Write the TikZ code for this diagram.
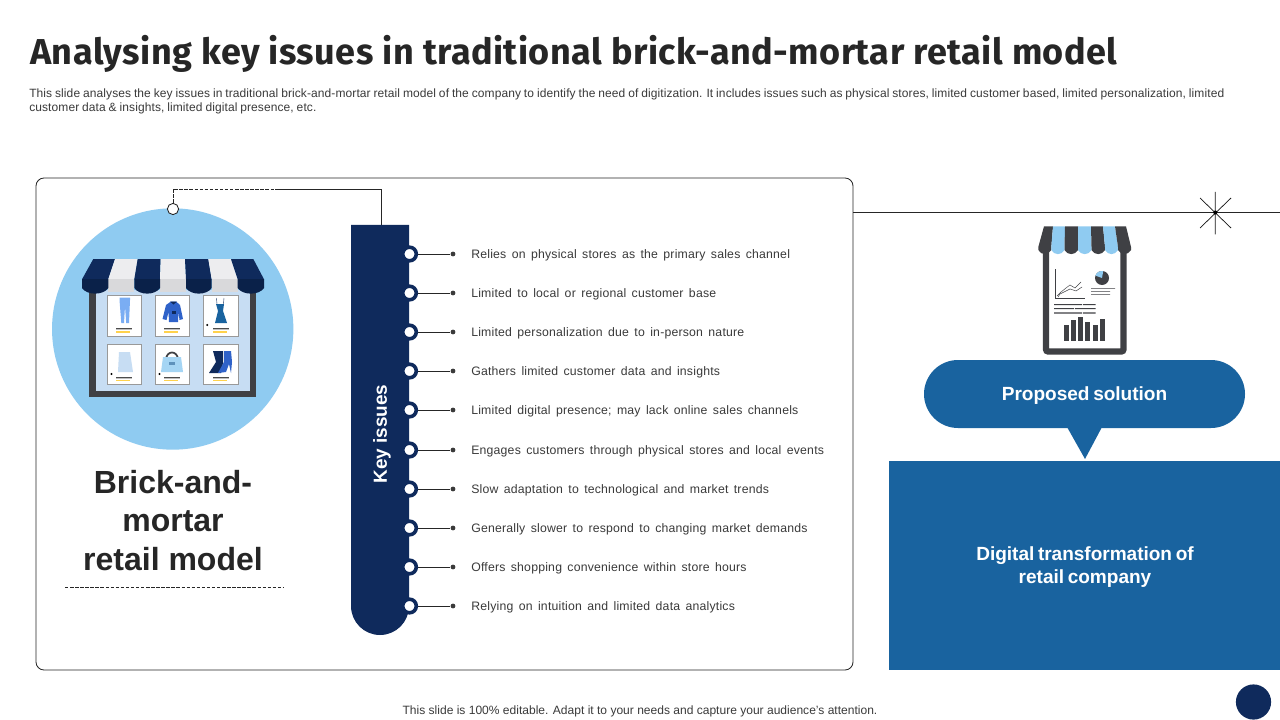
\documentclass[tikz,border=0pt]{standalone}
\usepackage{fontspec}
\setmainfont{Liberation Sans}
\newfontfamily\titlefont[LetterSpace=1.3]{Fira Sans}
\newfontfamily\itemfont[WordSpace=1.5,LetterSpace=1.65]{Liberation Sans}
\newfontfamily\headfont[WordSpace=0.7,LetterSpace=-0.2]{Liberation Sans}
\newfontfamily\subfont[WordSpace=0.85,LetterSpace=0.8]{Liberation Sans}
\definecolor{navy}{HTML}{0F2A5C}
\definecolor{midblue}{HTML}{19639F}
\definecolor{skyb}{HTML}{8FCBF1}
\definecolor{paleb}{HTML}{C7DDF3}
\definecolor{charc}{HTML}{3F4044}
\definecolor{txt}{HTML}{3A3A3A}
\definecolor{awnwhite}{HTML}{EDEDEF}
\definecolor{awngrey}{HTML}{D9D9DB}
\definecolor{navyd}{HTML}{0A2149}
\definecolor{royal}{HTML}{2F62C9}
\tikzset{
  itemtext/.style={anchor=west,inner sep=0pt,text=txt,font=\itemfont\fontsize{9.2pt}{11pt}\selectfont},
  hole/.style={circle,draw=navy,line width=2.7pt,fill=white,minimum size=10.2pt,inner sep=0pt},
  pin/.style={circle,fill=txt,minimum size=3.6pt,inner sep=0pt},
  thinline/.style={draw=black!85,line width=0.65pt},
  card/.style={draw=black!40,line width=0.4pt,fill=white},
  headtext/.style={align=center,inner sep=0pt,text=white,font=\headfont\bfseries\fontsize{14.3pt}{17.3pt}\selectfont},
  subtext/.style={anchor=west,inner sep=0pt,text=txt,font=\subfont\fontsize{9pt}{10.6pt}\selectfont}
}
\begin{document}
\begin{tikzpicture}[x=0.75pt,y=-0.75pt]
\useasboundingbox (0,0) rectangle (1280,720);
\fill[white] (0,0) rectangle (1280,720);
% title
\node[anchor=west,inner sep=0pt,font=\titlefont\bfseries\fontsize{27pt}{30pt}\selectfont,text=black!85] (title) at (30,53.5) {Analysing key issues in traditional brick-and-mortar retail model};
\node[subtext] (sub1) at (29,94) {This slide analyses the key issues in traditional brick-and-mortar retail model of the company to identify the need of digitization. It includes issues such as physical stores, limited customer based, limited personalization, limited};
\node[subtext] (sub2) at (29,108.4) {customer data \& insights, limited digital presence, etc.};
% left panel
\draw[draw=black!85,line width=0.65pt,rounded corners=6pt] (36,178) rectangle (853,670);
\node[circle,fill=skyb,minimum size=181pt,inner sep=0pt] (bigc) at (172.7,329) {};
% store front
\fill[paleb] (95,290) rectangle (250,392);
\draw[charc,line width=4.6pt] (92.5,290) -- (92.5,394) -- (253,394) -- (253,290);
\foreach \x/\y in {107.3/295.3,155.3/295.3,203.7/295.3,107.3/344,155.3/344,203.7/344}{
  \draw[card] (\x,\y) rectangle ++(34.2,40.5);
  \fill[black!70] (\x+9,\y+32.5) rectangle ++(16,0.8);
  \fill[black!25] (\x+9,\y+34) rectangle ++(16,0.6);
  \fill[orange!50!yellow!70] (\x+9,\y+36) rectangle ++(14,1.2);
}
% jeans
\fill[skyb!85!blue] (119.5,297.5) rectangle (130,300) (119.5,300) -- (130,300) -- (129,323) -- (126.2,323) -- (125,306) -- (124,323) -- (121.3,323) -- cycle;
% sweater
\fill[royal] (166,305) -- (171,301.5) -- (176,301.5) -- (180,305) -- (183,319) -- (179.5,320) -- (178.5,312) -- (178,322) -- (169,322) -- (168.5,312) -- (166.5,320) -- (162.5,319) -- cycle;
\fill[navy] (170,301.5) -- (177,301.5) -- (173.5,304.5) -- cycle;
\fill[navy] (172,311) rectangle (175.5,314);
% dress
\fill[midblue] (216,304) -- (224,304) -- (223,311) -- (227,323) -- (215,323) -- (218,311) -- cycle;
\draw[navy,line width=0.3pt] (217,304) -- (216.5,298) (223.5,304) -- (224,298);
\fill[black] (207.2,325) circle (1.2);
% skirt
\fill[paleb] (119,352) -- (130,352) -- (133,372) -- (118,372) -- cycle;
\fill[black] (111.5,374) circle (1.2);
% bag
\draw[charc,line width=1.3pt] (166,360) .. controls (166,350) and (178,350) .. (178,360);
\fill[skyb!80!white] (163,357) -- (181,357) -- (183,372) -- (161,372) -- cycle;
\fill[midblue!70] (169,362) rectangle (174.5,365);
\fill[black] (159.5,374) circle (1.2);
% boots
\fill[navy] (213,351) -- (223,351) -- (223,363) -- (221,373) -- (209,373) -- (216,362) -- cycle;
\fill[royal] (224,351) -- (231,351) -- (232,362) -- (231,373) -- (229,364) -- (226,372) -- (218,373) -- (224,362) -- cycle;
% awning
\foreach \a/\b/\c/\d/\col/\low in {
  82/108.3/115/93.3/navy/navyd,
  108.3/134.3/137.7/115/awnwhite/awngrey,
  134.3/160/160.7/137.7/navy/navyd,
  160/186/185/160.7/awnwhite/awngrey,
  186/211.7/208.3/185/navy/navyd,
  211.7/237.7/231/208.3/awnwhite/awngrey,
  237.7/264/253.3/231/navy/navyd}{
  \fill[\col] (\a,279.3) -- (\d,259) -- (\c,259) -- (\b,279.3) -- cycle;
}
\foreach \a/\b in {108.3/134.3,160/186,211.7/237.7}{\fill[awngrey] (\a,279) rectangle (\b,291.5);}
\foreach \a/\b in {82/108.3,134.3/160,186/211.7,237.7/264}{
  \fill[navyd] (\a,279) -- (\b,279) -- (\b,288) .. controls (\b-5,295.5) and (\a+5,295.5) .. (\a,288) -- cycle;}
% connector top
\node[circle,draw=black!85,line width=0.65pt,fill=white,minimum size=8.4pt,inner sep=0pt] (tip) at (173,209) {};
\coordinate (cornerA) at (173,189);
\coordinate (mid) at (275,189);
\coordinate (cornerB) at (381,189);
% heading
\node[align=center,inner sep=0pt,text=black!85,font=\bfseries\fontsize{24pt}{29pt}\selectfont] (brick) at (173,520.5) {Brick-and-\\mortar\\retail model};
\coordinate (dl) at (65,587); \coordinate (dr) at (283,587);
\draw[black!85,line width=0.55pt,dash pattern=on 2.6pt off 1.2pt] (dl) -- (dr);
% bar
\fill[navy] (351,225) -- (409,225) -- (409,606) arc[start angle=0,end angle=180,radius=29] -- cycle;
\coordinate (bartop) at (381,225);
\draw[black!85,line width=0.55pt,dash pattern=on 2.6pt off 1.2pt] (tip) -- (cornerA) -- (mid);
\draw[thinline] (mid) -- (cornerB) -- (bartop);
\node[rotate=90,inner sep=0pt,text=white,font=\bfseries\fontsize{14.2pt}{16pt}\selectfont] (keyl) at (382,434) {Key issues};
% items
\foreach \n/\y/\t in {
 1/254/{Relies on physical stores as the primary sales channel},
 2/293/{Limited to local or regional customer base},
 3/332/{Limited personalization due to in-person nature},
 4/371/{Gathers limited customer data and insights},
 5/410/{Limited digital presence; may lack online sales channels},
 6/450/{Engages customers through physical stores and local events},
 7/489/{Slow adaptation to technological and market trends},
 8/528/{Generally slower to respond to changing market demands},
 9/567/{Offers shopping convenience within store hours},
 10/606/{Relying on intuition and limited data analytics}}{
  \node[hole] (h\n) at (409.5,\y) {};
  \node[pin] (p\n) at (453,\y) {};
  \draw[thinline] (h\n) -- (p\n);
  \node[itemtext] (t\n) at (471,\y+1.6) {\t};
}
% top right line and star
\coordinate (ln1) at (853,212.5); \coordinate (ln2) at (1280,212.5);
\draw[thinline] (ln1) -- (ln2);
\coordinate (st) at (1215.3,212.5);
\draw[black!90,line width=0.55pt] (1215.3,192) -- (1215.3,234.5) (1200,198) -- (1231,228) (1200,228) -- (1231,198);
\fill[black] (st) circle (2);
% shop icon right
\draw[charc,line width=4.6pt,rounded corners=1.5pt,fill=white] (1046,250) -- (1046,351.5) -- (1123.5,351.5) -- (1123.5,250);
\foreach \a/\b/\c/\d/\col in {
  1038.3/1051.3/1053/1044/charc,
  1051.3/1064.5/1065/1053/skyb,
  1064.5/1078/1078/1065/charc,
  1078/1091.5/1091/1078/skyb,
  1091.5/1105/1103/1091/charc,
  1105/1118/1115/1103/skyb,
  1118/1131/1126/1115/charc}{
  \fill[\col] (\a,247) -- (\d,226.3) -- (\c,226.3) -- (\b,247) -- (\b,250) .. controls (\b-3,255.5) and (\a+3,255.5) .. (\a,250) -- cycle;
}
\draw[charc,line width=0.5pt] (1055,269) -- (1055,298) -- (1085,298);
\draw[charc,line width=0.35pt] (1057,296) -- (1061,292) -- (1066,288) -- (1070,285) -- (1075,288) -- (1081,282);
\draw[charc,line width=0.35pt] (1058,297) -- (1060,294) -- (1066,291) -- (1070,289) -- (1076,291) -- (1082,287);
\fill[charc] (1102,278) circle (7);
\fill[skyb] (1102,278) -- (1095.4,275.6) arc[start angle=200,end angle=280,radius=7] -- cycle;
\fill[charc] (1091,288) rectangle (1115,288.7) (1091,291) rectangle (1110,291.7) (1091,294) rectangle (1110,294.7);
\fill[charc] (1054,304) rectangle (1082,305.2) (1083,304) rectangle (1095.5,305.2);
\fill[charc] (1054,308) rectangle (1074,309.2) (1075,308) rectangle (1095.5,309.2);
\fill[charc] (1054,312.3) rectangle (1082,313.5) (1083,312.3) rectangle (1095.5,313.5);
\foreach \x/\t in {1064.3/325,1071/320,1078.3/317.3,1085.3/322.3,1093.3/325.3,1100.3/319.3}{
  \fill[charc] (\x,\t) rectangle ++(4.8,340.5-\t);
}
% callout
\fill[midblue,rounded corners=25.5pt] (924,360) rectangle (1245,428);
\fill[midblue] (1067,427) -- (1102,427) -- (1085,459) -- cycle;
\node[headtext] (prop) at (1084.5,396) {Proposed solution};
% main blue box
\fill[midblue] (889,461) rectangle (1280,670);
\node[headtext] (dig) at (1085,567.5) {Digital transformation of\\retail company};
% footer
\node[inner sep=0pt,text=txt,font=\fontsize{9.03pt}{11pt}\selectfont] (foot) at (640,711.4) {This slide is 100\% editable. Adapt it to your needs and capture your audience's attention.};
\node[circle,fill=navy,minimum size=26.4pt,inner sep=0pt] (corner) at (1253.5,702) {};
\end{tikzpicture}
\end{document}
